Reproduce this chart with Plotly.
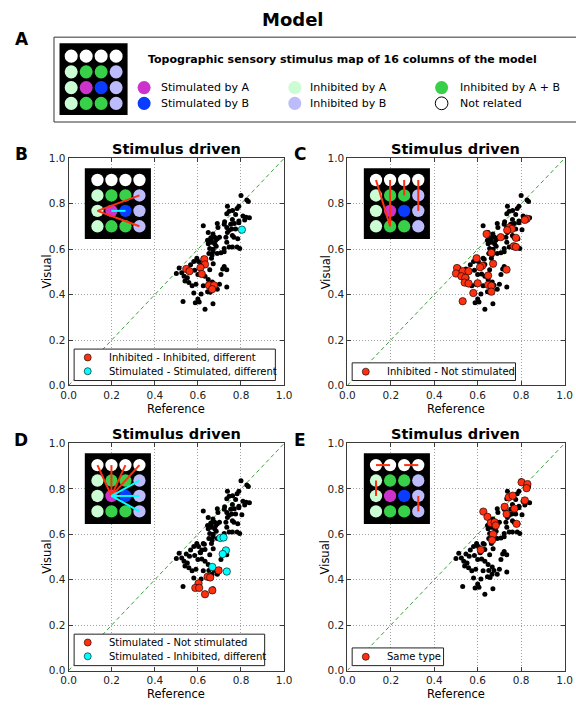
import plotly.graph_objects as go

W, H = 576, 708
FONT = "DejaVu Sans"

# ---------------- data ----------------
tick_vals = [0.0, 0.2, 0.4, 0.6, 0.8, 1.0]
tick_text = ["0.0", "0.2", "0.4", "0.6", "0.8", "1.0"]

# all column pairs (black dots): reference vs visual similarity
all_ref = [0.800, 0.827, 0.834, 0.790, 0.782, 0.737, 0.745, 0.734, 0.809, 0.824,
           0.839, 0.775, 0.790, 0.760, 0.752, 0.625, 0.690, 0.693, 0.722, 0.734,
           0.745, 0.737, 0.775, 0.790, 0.648, 0.670, 0.645, 0.678, 0.690, 0.700,
           0.660, 0.730, 0.760, 0.767, 0.785, 0.648, 0.655, 0.663, 0.678, 0.685,
           0.734, 0.745, 0.722, 0.760, 0.782, 0.794, 0.690, 0.707, 0.722, 0.670,
           0.651, 0.663, 0.625, 0.603, 0.618, 0.581, 0.566, 0.585, 0.600, 0.513,
           0.525, 0.536, 0.551, 0.540, 0.558, 0.573, 0.591, 0.655, 0.722, 0.734,
           0.707, 0.633, 0.648, 0.625, 0.700, 0.690, 0.734, 0.581, 0.600, 0.606,
           0.531, 0.670, 0.633, 0.615,
           0.630, 0.633, 0.612, 0.618, 0.546, 0.561, 0.651, 0.675, 0.666, 0.804,
           0.645, 0.657, 0.588, 0.715, 0.667,
           0.761, 0.724, 0.769, 0.660, 0.683, 0.671, 0.666, 0.757, 0.595, 0.611,
           0.671, 0.500, 0.817]
all_vis = [0.836, 0.817, 0.810, 0.789, 0.779, 0.789, 0.767, 0.756, 0.746, 0.741,
           0.739, 0.753, 0.724, 0.731, 0.710, 0.703, 0.713, 0.696, 0.710, 0.696,
           0.684, 0.674, 0.689, 0.717, 0.674, 0.667, 0.639, 0.653, 0.646, 0.653,
           0.639, 0.653, 0.660, 0.653, 0.646, 0.624, 0.603, 0.631, 0.624, 0.613,
           0.631, 0.610, 0.603, 0.610, 0.610, 0.603, 0.581, 0.584, 0.589, 0.589,
           0.581, 0.560, 0.560, 0.546, 0.531, 0.546, 0.531, 0.507, 0.489, 0.517,
           0.496, 0.481, 0.474, 0.460, 0.453, 0.439, 0.446, 0.510, 0.524, 0.510,
           0.489, 0.481, 0.467, 0.439, 0.446, 0.424, 0.434, 0.407, 0.381, 0.367,
           0.370, 0.360, 0.336, 0.403,
           0.556, 0.533, 0.519, 0.491, 0.513, 0.503, 0.441, 0.441, 0.424, 0.686,
           0.413, 0.410, 0.364, 0.513, 0.456,
           0.770, 0.721, 0.713, 0.650, 0.639, 0.600, 0.574, 0.689, 0.560, 0.521,
           0.536, 0.493, 0.729]

# Panel B highlights
b_red_ref = [0.630, 0.633, 0.612, 0.618, 0.546, 0.561, 0.651, 0.675, 0.666]
b_red_vis = [0.556, 0.533, 0.519, 0.491, 0.513, 0.503, 0.441, 0.441, 0.424]
b_cyan_ref = [0.804]
b_cyan_vis = [0.686]

# Panel C highlights
c_red_ref = [0.826, 0.817, 0.746, 0.757, 0.736, 0.641, 0.706, 0.776, 0.766, 0.776,
             0.663, 0.595, 0.621, 0.611, 0.671, 0.733, 0.505, 0.500, 0.531, 0.558,
             0.525, 0.543, 0.540, 0.558, 0.600, 0.648, 0.648, 0.663, 0.580, 0.531,
             0.663]
c_red_vis = [0.734, 0.729, 0.696, 0.689, 0.684, 0.667, 0.653, 0.650, 0.613, 0.610,
             0.584, 0.560, 0.527, 0.521, 0.536, 0.510, 0.517, 0.493, 0.503, 0.503,
             0.481, 0.474, 0.453, 0.449, 0.450, 0.484, 0.443, 0.439, 0.407, 0.371,
             0.413]

# Panel D highlights
d_red_ref = [0.696, 0.645, 0.657, 0.603, 0.588, 0.606, 0.633, 0.667]
d_red_vis = [0.441, 0.413, 0.410, 0.384, 0.364, 0.364, 0.336, 0.353]
d_cyan_ref = [0.704, 0.719, 0.730, 0.715, 0.667, 0.734]
d_cyan_vis = [0.584, 0.586, 0.529, 0.513, 0.456, 0.436]

# Panel E highlights
e_red_ref = [0.802, 0.829, 0.825, 0.743, 0.761, 0.817, 0.724, 0.769, 0.733, 0.626,
             0.645, 0.660, 0.678, 0.683, 0.779, 0.671, 0.666, 0.614]
e_red_vis = [0.829, 0.821, 0.803, 0.763, 0.770, 0.749, 0.721, 0.713, 0.689, 0.700,
             0.677, 0.650, 0.653, 0.639, 0.646, 0.600, 0.574, 0.531]

# topographic map categories (4x4)
grid_types = [["N", "N", "N", "N"],
              ["IA", "IAB", "IAB", "IB"],
              ["IA", "SA", "SB", "IB"],
              ["IA", "IAB", "IAB", "IB"]]
type_labels = {"SA": "Stimulated by A", "SB": "Stimulated by B",
               "IA": "Inhibited by A", "IB": "Inhibited by B",
               "IAB": "Inhibited by A + B", "N": "Not related"}

# connections drawn in each inset: (row, col) pairs
b_links_red = [((2, 0), (1, 3)), ((2, 0), (3, 3))]
b_links_cyan = [((2, 1), (2, 2))]
c_links_red = [((0, 0), (3, 1)), ((0, 1), (3, 1)), ((0, 2), (1, 2)), ((0, 3), (2, 3))]
d_links_red = [((2, 1), (0, 0)), ((2, 1), (0, 1)), ((2, 1), (0, 2)), ((2, 1), (0, 3))]
d_links_cyan = [((2, 1), (1, 3)), ((2, 1), (2, 3)), ((2, 1), (3, 3))]
e_links_red = [((0, 0), (0, 1)), ((0, 2), (0, 3)), ((1, 0), (2, 0)), ((2, 3), (3, 3))]

# ---------------- styles ----------------
CELL_COLORS = {"SA": "#cc33cc", "SB": "#0a3cff", "IA": "#ccfcd4",
               "IB": "#bcbcfc", "IAB": "#38d048", "N": "#ffffff"}
RED = "#ff3010"
CYAN = "#00ffff"
DIAG = "#3aa03a"


def X(px):
    return px / W


def Y(py):
    return 1 - py / H


fig = go.Figure()
shapes = []
annotations = []


def text(px, py, s, size, bold=False, xanchor="center", yanchor="middle", angle=0):
    annotations.append(dict(
        x=X(px), y=Y(py), xref="paper", yref="paper", showarrow=False,
        text=("<b>%s</b>" % s) if bold else s, xanchor=xanchor, yanchor=yanchor,
        textangle=angle, font=dict(family=FONT, size=size, color="#000000"),
        borderpad=0))


def circle(cx, cy, r, fill, edge=None, ew=0):
    shapes.append(dict(
        type="circle", xref="paper", yref="paper", layer="above",
        x0=X(cx - r), x1=X(cx + r), y0=Y(cy + r), y1=Y(cy - r),
        fillcolor=fill, line=dict(color=edge or fill, width=ew)))


def rect(x0, y0, x1, y1, fill, edge, ew):
    shapes.append(dict(
        type="rect", xref="paper", yref="paper", layer="above",
        x0=X(x0), x1=X(x1), y0=Y(y1), y1=Y(y0),
        fillcolor=fill, line=dict(color=edge, width=ew)))


def seg(x0, y0, x1, y1, color, w):
    shapes.append(dict(
        type="line", xref="paper", yref="paper", layer="above",
        x0=X(x0), x1=X(x1), y0=Y(y0), y1=Y(y1),
        line=dict(color=color, width=w)))


def inset(box, cx0, dx, cy0, dy, r, red_links=(), cyan_links=()):
    rect(*box, "#000000", "#000000", 0)
    for i, row in enumerate(grid_types):
        for j, t in enumerate(row):
            circle(cx0 + j * dx, cy0 + i * dy, r, CELL_COLORS[t])
    for links, col in ((red_links, RED), (cyan_links, CYAN)):
        for (a, b) in links:
            seg(cx0 + a[1] * dx, cy0 + a[0] * dy, cx0 + b[1] * dx, cy0 + b[0] * dy, col, 2)


# ---------------- header / panel A ----------------
text(293, 14, "Model", 18, bold=True)
text(14.5, 34, "A", 17, bold=True)
rect(47.3, 31.7, 590, 118, "rgba(0,0,0,0)", "#333333", 1)
inset((53, 38, 123, 111), 65, 15.4, 51, 16, 6.7)
text(143, 54, "Topographic sensory stimulus map of 16 columns of the model", 11,
     bold=True, xanchor="left")
legend_slots = [("SA", 140, 156, 83), ("SB", 140, 156, 99),
                ("IA", 295, 310, 83), ("IB", 295, 310, 99),
                ("IAB", 446, 464, 83), ("N", 446, 464, 99)]
for t, mx, tx, yy in legend_slots:
    if t == "N":
        circle(mx, yy, 6.5, "#ffffff", "#000000", 1)
    else:
        circle(mx, yy, 6.7, CELL_COLORS[t])
    text(tx, yy, type_labels[t], 11, xanchor="left")

# ---------------- scatter panels ----------------
BX = (62.3, 284.0)
CX = (349.0, 572.5)
TOPY = (155.0, 386.0)
BOTY = (445.0, 676.0)

panels = [
    dict(letter="B", sx="", xr=BX, yr=TOPY,
         hl=[(b_red_ref, b_red_vis, RED, "Inhibited - Inhibited, different"),
             (b_cyan_ref, b_cyan_vis, CYAN, "Stimulated - Stimulated, different")],
         legbox=(68, 349, 275, 381),
         ins=dict(box=(79, 165, 147, 237), cx0=92, dx=14.4, cy0=177, dy=15.7,
                  red=b_links_red, cyan=b_links_cyan)),
    dict(letter="C", sx="2", xr=CX, yr=TOPY,
         hl=[(c_red_ref, c_red_vis, RED, "Inhibited - Not stimulated")],
         legbox=(354, 363, 522, 381),
         ins=dict(box=(366, 165, 434, 237), cx0=378.5, dx=14.5, cy0=177, dy=15.7,
                  red=c_links_red, cyan=[])),
    dict(letter="D", sx="3", xr=BX, yr=BOTY,
         hl=[(d_red_ref, d_red_vis, RED, "Stimulated - Not stimulated"),
             (d_cyan_ref, d_cyan_vis, CYAN, "Stimulated - Inhibited, different")],
         legbox=(68, 639, 264, 671),
         ins=dict(box=(79, 455, 147, 527), cx0=92, dx=14.4, cy0=467, dy=15.7,
                  red=d_links_red, cyan=d_links_cyan)),
    dict(letter="E", sx="4", xr=CX, yr=BOTY,
         hl=[(e_red_ref, e_red_vis, RED, "Same type")],
         legbox=(354, 653, 448, 671),
         ins=dict(box=(366, 455, 434, 527), cx0=378.5, dx=14.5, cy0=467, dy=15.7,
                  red=e_links_red, cyan=[])),
]

axis_common = dict(range=[0, 1], tickvals=tick_vals, ticktext=tick_text,
                   showgrid=True, gridcolor="#8c8c8c", griddash="1px,2px", gridwidth=0.8,
                   zeroline=False, showline=True, mirror="ticks", linecolor="#3a3a3a",
                   linewidth=1, ticks="inside", ticklen=4, tickcolor="#3a3a3a",
                   tickfont=dict(family=FONT, size=10.5, color="#222222"),
                   fixedrange=True)

layout_axes = {}
for p in panels:
    sx = p["sx"]
    xa, ya = "x" + sx, "y" + sx
    x0, x1 = p["xr"]
    yt, yb = p["yr"]
    layout_axes["xaxis" + sx] = dict(axis_common, domain=[X(x0), X(x1)], anchor=ya)
    layout_axes["yaxis" + sx] = dict(axis_common, domain=[Y(yb), Y(yt)], anchor=xa)

    fig.add_trace(go.Scatter(x=[0, 1], y=[0, 1], mode="lines", xaxis=xa, yaxis=ya,
                             line=dict(color=DIAG, width=1, dash="4px,3px"),
                             hoverinfo="skip", showlegend=False))
    fig.add_trace(go.Scatter(x=all_ref, y=all_vis, mode="markers", xaxis=xa, yaxis=ya,
                             marker=dict(color="#000000", size=5, line=dict(width=0)),
                             showlegend=False, name="All pairs"))
    for rx, ry, col, lab in p["hl"]:
        fig.add_trace(go.Scatter(x=rx, y=ry, mode="markers", xaxis=xa, yaxis=ya,
                                 marker=dict(color=col, size=7.4,
                                             line=dict(color="#000000", width=0.6)),
                                 showlegend=False, name=lab))

    cx = (x0 + x1) / 2
    cy = (yt + yb) / 2
    text(13.5 if p["letter"] in "BD" else 300, yt - 4, p["letter"], 17, bold=True)
    text(cx, yt - 10, "Stimulus driven", 14.5, bold=True)
    text(cx, yb + 23.5, "Reference", 11.5)
    text(x0 - 22.5, cy, "Visual", 11.5, angle=-90)

    # legend box
    lx0, ly0, lx1, ly1 = p["legbox"]
    rect(lx0, ly0, lx1, ly1, "#ffffff", "#222222", 1)
    n = len(p["hl"])
    for k, (rx, ry, col, lab) in enumerate(p["hl"]):
        yy = ly0 + 8.5 + k * 14 if n > 1 else (ly0 + ly1) / 2
        circle(lx0 + 14, yy, 3.6, col, "#000000", 0.6)
        text(lx0 + 35, yy, lab, 10, xanchor="left")

    ins = p["ins"]
    inset(ins["box"], ins["cx0"], ins["dx"], ins["cy0"], ins["dy"], 6.3,
          ins["red"], ins["cyan"])

fig.update_layout(
    width=W, height=H, autosize=False,
    margin=dict(l=0, r=0, t=0, b=0, pad=0),
    paper_bgcolor="#ffffff", plot_bgcolor="#ffffff",
    showlegend=False, shapes=shapes, annotations=annotations,
    font=dict(family=FONT, size=11, color="#000000"),
    **layout_axes)

fig.write_html(
    "out.html",
    config={"displayModeBar": False, "staticPlot": True},
    post_script="document.body.style.margin='0';document.body.style.padding='0';"
                "document.body.style.overflow='hidden';")
